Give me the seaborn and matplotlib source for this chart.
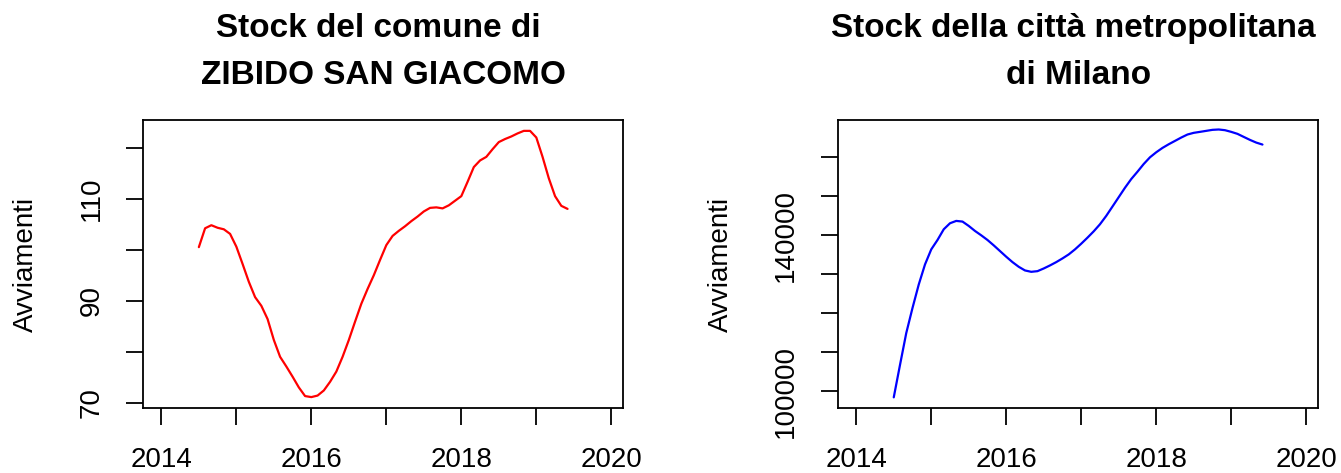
import numpy as np
import pandas as pd
import matplotlib
matplotlib.use("Agg")
import matplotlib.pyplot as plt
import seaborn as sns

# Serie mensili da luglio 2014 a giugno 2019
mesi = pd.period_range("2014-07", "2019-06", freq="M")

stock_comune = [
    100.5, 104.2, 104.8, 104.3, 104.0, 103.1, 100.6, 97.2, 93.7, 90.7,
    89.0, 86.4, 82.3, 79.0, 77.1, 75.1, 73.0, 71.3, 71.1, 71.4,
    72.4, 74.1, 76.1, 79.0, 82.3, 85.9, 89.4, 92.3, 95.0, 98.0,
    100.9, 102.7, 103.7, 104.6, 105.6, 106.5, 107.5, 108.2, 108.3, 108.1,
    108.7, 109.6, 110.5, 113.3, 116.2, 117.5, 118.2, 119.7, 121.1, 121.7,
    122.2, 122.8, 123.3, 123.3, 122.0, 118.2, 114.0, 110.5, 108.6, 108.0,
]

stock_milano = [
    98370, 106700, 114870, 121320, 127340, 132490, 136360, 138770, 141520, 143070,
    143670, 143500, 142380, 141090, 139970, 138770, 137390, 135930, 134470, 133090,
    131890, 130950, 130600, 130770, 131460, 132240, 133090, 134040, 135070, 136360,
    137820, 139370, 141000, 142810, 144960, 147360, 149770, 152180, 154410, 156300,
    158280, 160000, 161290, 162410, 163350, 164210, 165070, 165850, 166280, 166530,
    166790, 167050, 167140, 166960, 166530, 166020, 165240, 164470, 163780, 163270,
]

titoli = ["Stock del comune di \nZIBIDO SAN GIACOMO",
          "Stock della città metropolitana \ndi Milano"]
colori = ["#FF0000", "#0000FF"]

anni_tick = [2014, 2015, 2016, 2017, 2018, 2019, 2020]
anni_label = ["2014", "", "2016", "", "2018", "", "2020"]
y_tick_comune = [70, 80, 90, 100, 110, 120]
y_label_comune = ["70", "", "90", "", "110", ""]
y_tick_milano = [100000, 110000, 120000, 130000, 140000, 150000, 160000]
y_label_milano = ["100000", "", "", "", "140000", "", ""]

tempo = mesi.year + (mesi.month - 1) / 12
df = pd.DataFrame({"tempo": tempo, "comune": stock_comune, "milano": stock_milano})

sns.set_style("white")
plt.rcParams["font.family"] = ["Liberation Sans", "DejaVu Sans"]
plt.rcParams["text.color"] = "black"
plt.rcParams["axes.labelcolor"] = "black"

fig = plt.figure(figsize=(13.41, 4.73), dpi=100)
ax1 = fig.add_axes([0.1069, 0.1374, 0.3579, 0.6089])
ax2 = fig.add_axes([0.6251, 0.1374, 0.3579, 0.6089])

pannelli = [
    (ax1, "comune", y_tick_comune, y_label_comune, (68.96, 125.43)),
    (ax2, "milano", y_tick_milano, y_label_milano, (95635, 169577)),
]

for i, (ax, col, yt, yl, ylim) in enumerate(pannelli):
    sns.lineplot(x="tempo", y=col, data=df, ax=ax, color=colori[i], linewidth=1.6)
    ax.set_xlim(2013.76, 2020.16)
    ax.set_ylim(*ylim)
    ax.set_xticks(anni_tick)
    ax.set_xticklabels(anni_label)
    ax.set_yticks(yt)
    ax.set_yticklabels(yl, rotation=90, va="center")
    ax.tick_params(axis="both", direction="out", length=12, width=1.3,
                   color="black", labelsize=20, labelcolor="black", pad=16,
                   bottom=True, left=True)
    for sp in ax.spines.values():
        sp.set_color("black")
        sp.set_linewidth(1.3)
    ax.set_xlabel("")
    ax.set_ylabel("Avviamenti", fontsize=20, color="black")
    ax.yaxis.set_label_coords(-0.2173, 0.5)
    ax.set_title(titoli[i], fontsize=24, fontweight="bold", pad=26,
                 linespacing=1.65, color="black")

plt.savefig("out.png", dpi=100)
plt.close()
